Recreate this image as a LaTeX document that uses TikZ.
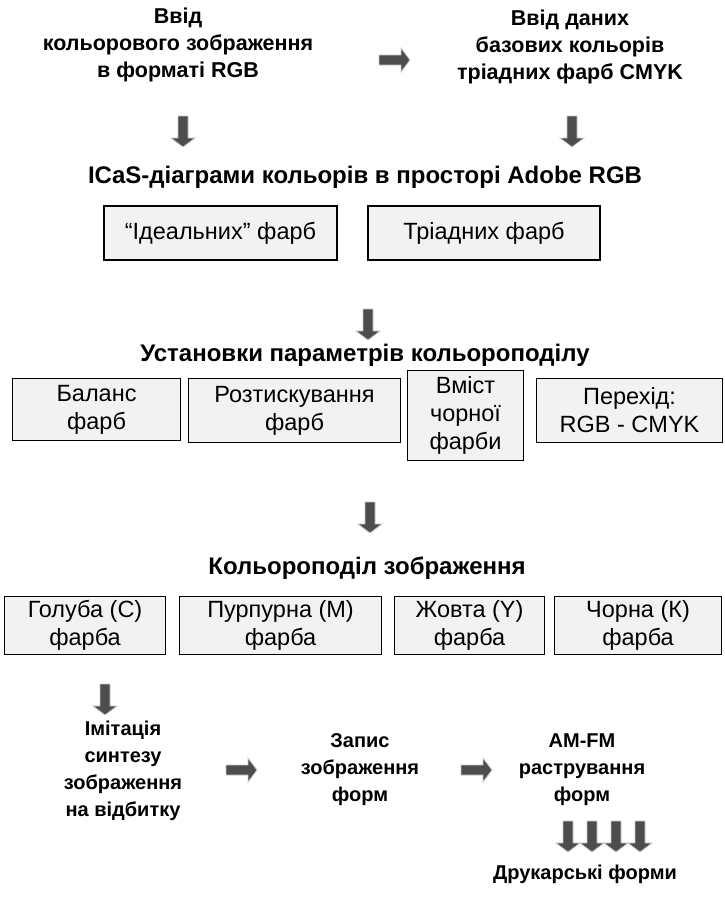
\documentclass[tikz,border=0pt]{standalone}
\usepackage{fontspec}
\setmainfont{Liberation Sans}
\definecolor{boxgray}{HTML}{F2F2F2}
\definecolor{arrgray}{HTML}{4D4D4D}
\definecolor{arredge}{HTML}{C8C8C8}
\tikzset{
  ttl/.style={font=\fontsize{20}{27}\selectfont\bfseries, align=center, inner sep=0pt},
  toptl/.style={font=\fontsize{21.5}{27}\selectfont\bfseries, align=center, inner sep=0pt},
  midtl/.style={font=\fontsize{24}{28}\selectfont\bfseries, align=center, inner sep=0pt},
  box/.style={draw=black, line width=1.1pt, fill=boxgray, align=center, inner sep=0pt,
              font=\fontsize{23.5}{28}\selectfont},
  pics/darrow/.style={code={
      \filldraw[fill=arrgray, draw=arredge, line width=0.8pt]
        (-5,-14) -- (5,-14) -- (5,8) -- (12,8) -- (0,17) -- (-12,8) -- (-5,8) -- cycle;}},
  pics/rarrow/.style={code={
      \filldraw[fill=arrgray, draw=arredge, line width=0.8pt]
        (-14,-5) -- (-14,5) -- (8,5) -- (8,12) -- (17,0) -- (8,-12) -- (8,-5) -- cycle;}},
}
\begin{document}
\begin{tikzpicture}[x=1pt,y=-1pt]
\useasboundingbox (0,0) rectangle (724,898);
% top titles
\node[toptl] (in1) at (178,45) {Ввід\\кольорового зображення\\в форматі RGB};
\node[toptl] (in2) at (570,47) {Ввід даних\\базових кольорів\\тріадних фарб CMYK};
\pic at (393,60) {rarrow};
\pic at (183,130) {darrow};
\pic at (572,130) {darrow};
\node[midtl] (icas) at (365,177) {ICaS-діаграми кольорів в просторі Adobe RGB};
% row 1 boxes
\node[box, minimum width=233, minimum height=54] (ideal) at (220.5,233) {“Ідеальних” фарб};
\node[box, minimum width=232, minimum height=54] (triad) at (484,233) {Тріадних фарб};
\pic at (368,323) {darrow};
\node[midtl] (setup) at (365,355) {Установки параметрів кольороподілу};
% row 2 boxes
\node[box, minimum width=168, minimum height=62, anchor=north west] (bal) at (12,378) {Баланс\\фарб};
\node[box, minimum width=212, minimum height=64, anchor=north west] (rozt) at (188,378) {Розтискування\\фарб};
\node[box, minimum width=116, minimum height=90, anchor=north west] (vmist) at (407,370) {Вміст\\чорної\\фарби};
\node[box, minimum width=186, minimum height=64, anchor=north west] (perehid) at (536,378) {Перехід:\\RGB - CMYK};
\pic at (370,516) {darrow};
\node[midtl] (sep) at (367,568) {Кольороподіл зображення};
% row 3 boxes
\node[box, minimum width=161, minimum height=58, anchor=north west] (c) at (4,596) {Голуба (С)\\фарба};
\node[box, minimum width=202, minimum height=58, anchor=north west] (m) at (179,596) {Пурпурна (М)\\фарба};
\node[box, minimum width=150, minimum height=58, anchor=north west] (y) at (394,596) {Жовта (Y)\\фарба};
\node[box, minimum width=167, minimum height=58, anchor=north west] (k) at (554,596) {Чорна (К)\\фарба};
\pic at (105,698) {darrow};
% bottom row
\node[ttl] (imit) at (123,771) {Імітація\\синтезу\\зображення\\на відбитку};
\pic at (240,770) {rarrow};
\node[ttl] (zapys) at (360,770) {Запис\\зображення\\форм};
\pic at (475,770) {rarrow};
\node[ttl] (amfm) at (582,770) {AM-FM\\растрування\\форм};
\foreach \xx in {568,592,616,640} \pic at (\xx,835) {darrow};
\node[ttl] (druk) at (585,874) {Друкарські форми};
\end{tikzpicture}
\end{document}
